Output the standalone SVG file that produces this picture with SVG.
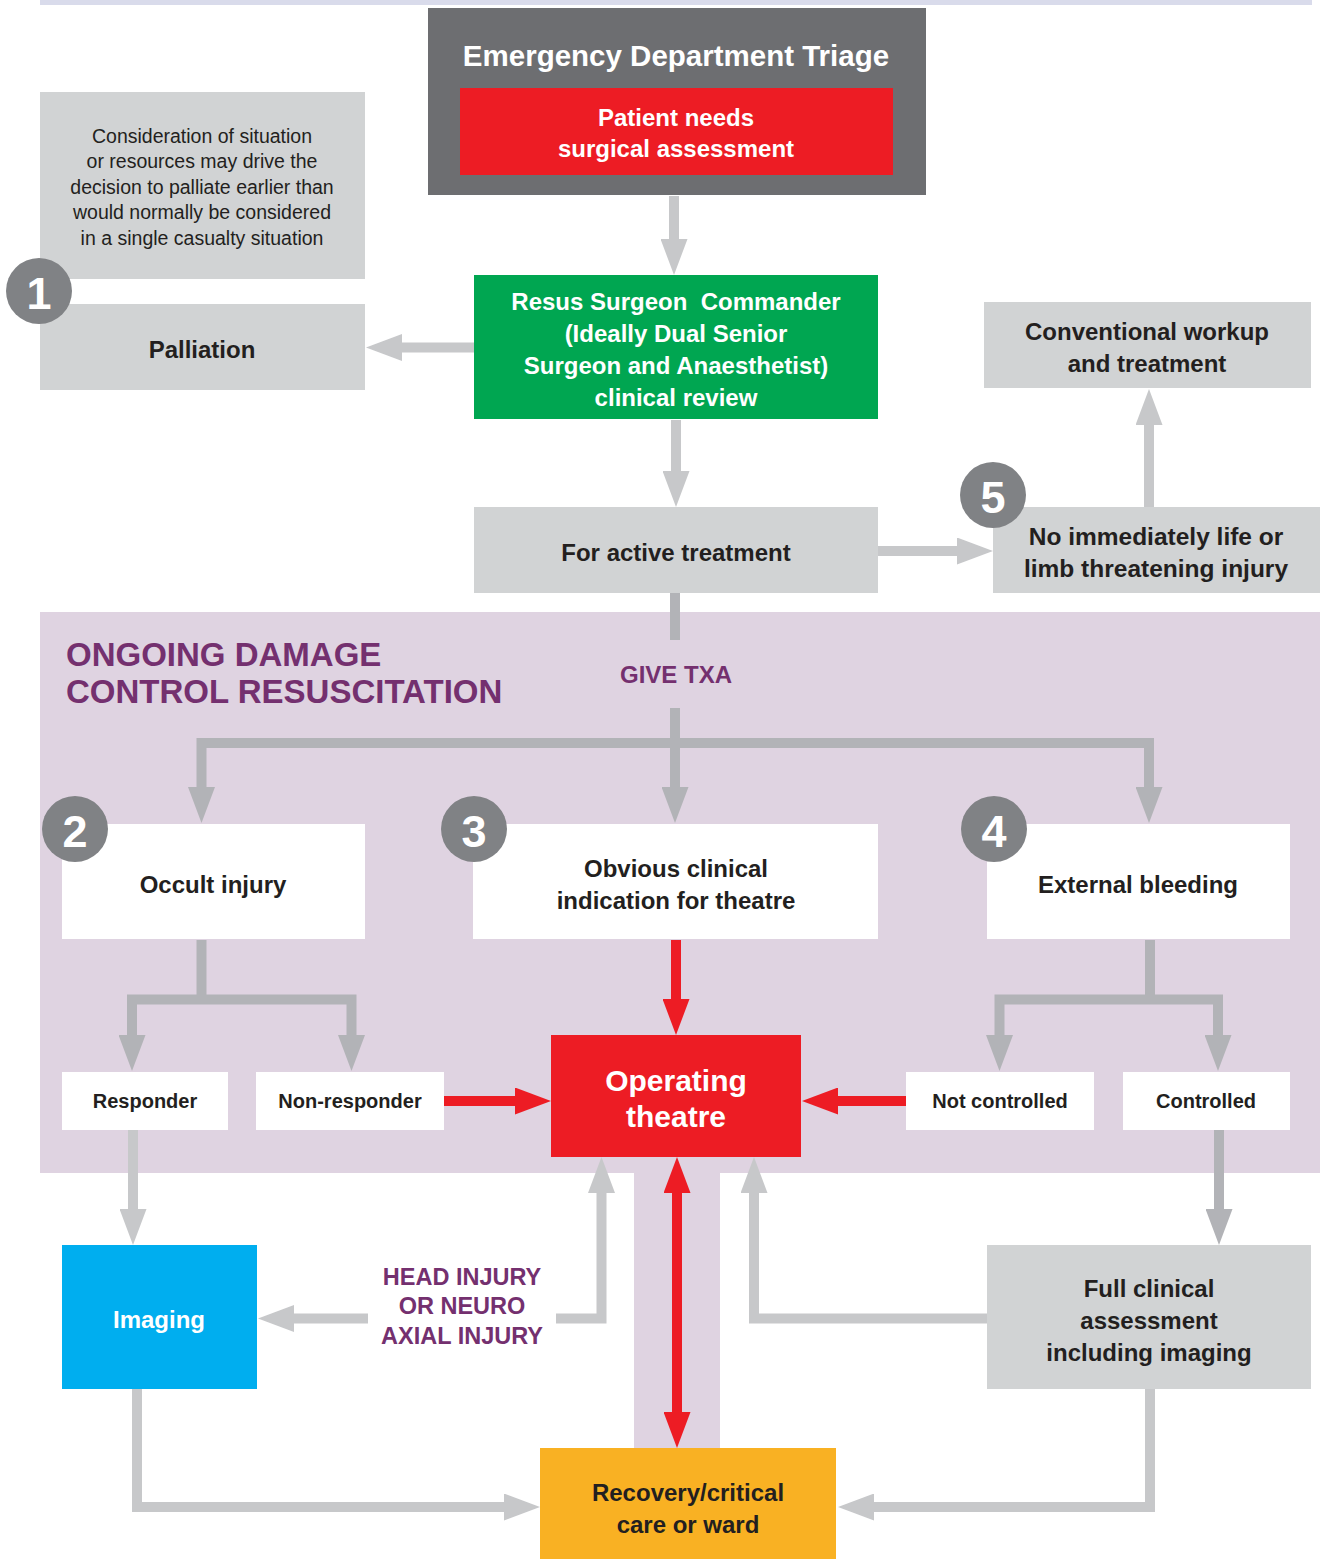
<svg xmlns="http://www.w3.org/2000/svg" width="1327" height="1560" viewBox="0 0 1327 1560">
<defs>
<style>
.t{font-family:"Liberation Sans",Arial,sans-serif;font-weight:bold;text-anchor:middle}
.r{font-family:"Liberation Sans",Arial,sans-serif;font-weight:normal;text-anchor:middle;font-size:19.5px;fill:#231f20}
.dk{fill:#231f20}
.wh{fill:#ffffff}
.pu{fill:#74306f}
.gbox{fill:#d1d3d4}
.wbox{fill:#ffffff}
.num{fill:#808285}
.numt{font-family:"Liberation Sans",Arial,sans-serif;font-weight:bold;text-anchor:middle;font-size:45px;fill:#ffffff}
.c{fill:none;stroke-width:10;stroke-linejoin:miter}
.lg{stroke:#c7c8ca}
.dg{stroke:#b2b3b7}
.rd{stroke:#ed1c24}
</style>
<marker id="hl" markerUnits="userSpaceOnUse" markerWidth="36" markerHeight="27" refX="1" refY="13.5" orient="auto-start-reverse" viewBox="0 0 36 27"><path d="M0,0 L36,13.5 L0,27 z" fill="#c7c8ca"/></marker>
<marker id="hd" markerUnits="userSpaceOnUse" markerWidth="36" markerHeight="27" refX="1" refY="13.5" orient="auto-start-reverse" viewBox="0 0 36 27"><path d="M0,0 L36,13.5 L0,27 z" fill="#b2b3b7"/></marker>
<marker id="hr" markerUnits="userSpaceOnUse" markerWidth="36" markerHeight="27" refX="1" refY="13.5" orient="auto-start-reverse" viewBox="0 0 36 27"><path d="M0,0 L36,13.5 L0,27 z" fill="#ed1c24"/></marker>
</defs>

<rect x="0" y="0" width="1327" height="1560" fill="#ffffff"/>
<rect x="40" y="0" width="1272" height="5" fill="#d9dbeb"/>

<!-- purple region -->
<g id="dcr-region">
<rect x="40" y="612" width="1280" height="561" fill="#dfd3e1"/>
<rect x="634" y="1172" width="86" height="276" fill="#dfd3e1"/>
<text class="t pu" x="66" y="666" font-size="33" style="text-anchor:start">ONGOING DAMAGE</text>
<text class="t pu" x="66" y="703" font-size="33" style="text-anchor:start">CONTROL RESUSCITATION</text>
</g>

<!-- connectors -->
<g id="connectors">
<path class="c lg" d="M674,196 V240" marker-end="url(#hl)"/>
<path class="c lg" d="M474,347.5 H401" marker-end="url(#hl)"/>
<path class="c lg" d="M676,420 V472" marker-end="url(#hl)"/>
<path class="c lg" d="M878,551 H958" marker-end="url(#hl)"/>
<path class="c lg" d="M1149,507 V424" marker-end="url(#hl)"/>
<path class="c dg" d="M675,593 V640"/>
<path class="c dg" d="M675,708 V788" marker-end="url(#hd)"/>
<path class="c dg" d="M201.5,788 V743 H1149 V788" marker-start="url(#hd)" marker-end="url(#hd)"/>
<path class="c dg" d="M201.5,940 V999.5"/>
<path class="c dg" d="M132,1036 V999.5 H351.5 V1036" marker-start="url(#hd)" marker-end="url(#hd)"/>
<path class="c dg" d="M1150,940 V999.5"/>
<path class="c dg" d="M999.5,1036 V999.5 H1218 V1036" marker-start="url(#hd)" marker-end="url(#hd)"/>
<path class="c rd" d="M676,940 V1000" marker-end="url(#hr)"/>
<path class="c rd" d="M444,1101 H516" marker-end="url(#hr)"/>
<path class="c rd" d="M906,1101 H837" marker-end="url(#hr)"/>
<path class="c lg" d="M133,1130 V1210" marker-end="url(#hl)"/>
<path class="c dg" d="M1219,1130 V1210" marker-end="url(#hd)"/>
<path class="c lg" d="M368,1318.5 H293" marker-end="url(#hl)"/>
<path class="c lg" d="M556,1318.5 H601.5 V1192" marker-end="url(#hl)"/>
<path class="c lg" d="M987,1318.5 H754 V1192" marker-end="url(#hl)"/>
<path class="c rd" d="M677,1192 V1413" marker-start="url(#hr)" marker-end="url(#hr)"/>
<path class="c lg" d="M137,1389 V1507 H505" marker-end="url(#hl)"/>
<path class="c lg" d="M1150,1389 V1507 H873" marker-end="url(#hl)"/>
</g>

<g id="ed-triage">
<rect x="428" y="8" width="498" height="187" fill="#6d6e71"/>
<text class="t wh" x="676" y="65.5" font-size="29.5">Emergency Department Triage</text>
</g>
<g id="patient-needs">
<rect x="460" y="88" width="433" height="87" fill="#ed1c24"/>
<text class="t wh" x="676" y="126" font-size="24">Patient needs</text>
<text class="t wh" x="676" y="157" font-size="24">surgical assessment</text>
</g>

<g id="consideration">
<rect class="gbox" x="40" y="92" width="325" height="187"/>
<text class="r" x="202" y="143">Consideration of situation</text>
<text class="r" x="202" y="168">or resources may drive the</text>
<text class="r" x="202" y="194">decision to palliate earlier than</text>
<text class="r" x="202" y="219">would normally be considered</text>
<text class="r" x="202" y="245">in a single casualty situation</text>
</g>

<g id="palliation">
<rect class="gbox" x="40" y="304" width="325" height="86"/>
<text class="t dk" x="202" y="357.5" font-size="24">Palliation</text>
<circle class="num" cx="39" cy="291" r="33"/>
<text class="numt" x="39" y="309">1</text>
</g>

<g id="resus-surgeon">
<rect x="474" y="275" width="404" height="144" fill="#00a651"/>
<text class="t wh" x="676" y="310" font-size="24" xml:space="preserve">Resus Surgeon  Commander</text>
<text class="t wh" x="676" y="342" font-size="24">(Ideally Dual Senior</text>
<text class="t wh" x="676" y="374" font-size="24">Surgeon and Anaesthetist)</text>
<text class="t wh" x="676" y="406" font-size="24">clinical review</text>
</g>

<g id="conventional">
<rect class="gbox" x="984" y="302" width="327" height="86"/>
<text class="t dk" x="1147" y="339.5" font-size="24">Conventional workup</text>
<text class="t dk" x="1147" y="371.5" font-size="24">and treatment</text>
</g>

<g id="active-treatment">
<rect class="gbox" x="474" y="507" width="404" height="86"/>
<text class="t dk" x="676" y="560.5" font-size="24">For active treatment</text>
</g>

<g id="no-immediate">
<rect class="gbox" x="993" y="507" width="327" height="86"/>
<text class="t dk" x="1156" y="544.5" font-size="24.5">No immediately life or</text>
<text class="t dk" x="1156" y="576.5" font-size="24.5">limb threatening injury</text>
<circle class="num" cx="993" cy="495" r="33"/>
<text class="numt" x="993" y="513">5</text>
</g>

<g id="give-txa">
<text class="t pu" x="676" y="683" font-size="24">GIVE TXA</text>
</g>

<g id="occult">
<rect class="wbox" x="62" y="824" width="303" height="115"/>
<text class="t dk" x="213" y="892.5" font-size="24">Occult injury</text>
<circle class="num" cx="75" cy="829" r="33"/>
<text class="numt" x="75" y="847">2</text>
</g>

<g id="obvious">
<rect class="wbox" x="473" y="824" width="405" height="115"/>
<text class="t dk" x="676" y="876.5" font-size="24">Obvious clinical</text>
<text class="t dk" x="676" y="908.5" font-size="24">indication for theatre</text>
<circle class="num" cx="474" cy="829" r="33"/>
<text class="numt" x="474" y="847">3</text>
</g>

<g id="external">
<rect class="wbox" x="987" y="824" width="303" height="115"/>
<text class="t dk" x="1138" y="892.5" font-size="24">External bleeding</text>
<circle class="num" cx="994" cy="829" r="33"/>
<text class="numt" x="994" y="847">4</text>
</g>

<g id="responder">
<rect class="wbox" x="62" y="1072" width="166" height="58"/>
<text class="t dk" x="145" y="1108" font-size="20">Responder</text>
</g>
<g id="non-responder">
<rect class="wbox" x="256" y="1072" width="188" height="58"/>
<text class="t dk" x="350" y="1108" font-size="20">Non-responder</text>
</g>

<g id="operating-theatre">
<rect x="551" y="1035" width="250" height="122" fill="#ed1c24"/>
<text class="t wh" x="676" y="1090.5" font-size="30">Operating</text>
<text class="t wh" x="676" y="1126.5" font-size="30">theatre</text>
</g>

<g id="not-controlled">
<rect class="wbox" x="906" y="1072" width="188" height="58"/>
<text class="t dk" x="1000" y="1108" font-size="20">Not controlled</text>
</g>
<g id="controlled">
<rect class="wbox" x="1123" y="1072" width="167" height="58"/>
<text class="t dk" x="1206" y="1108" font-size="20">Controlled</text>
</g>

<g id="imaging">
<rect x="62" y="1245" width="195" height="144" fill="#00aeef"/>
<text class="t wh" x="159" y="1327.5" font-size="24">Imaging</text>
</g>

<g id="head-injury">
<text class="t pu" x="462" y="1284.5" font-size="23.5">HEAD INJURY</text>
<text class="t pu" x="462" y="1314" font-size="23.5">OR NEURO</text>
<text class="t pu" x="462" y="1343.5" font-size="23.5">AXIAL INJURY</text>
</g>

<g id="full-clinical">
<rect class="gbox" x="987" y="1245" width="324" height="144"/>
<text class="t dk" x="1149" y="1296.5" font-size="24">Full clinical</text>
<text class="t dk" x="1149" y="1328.5" font-size="24">assessment</text>
<text class="t dk" x="1149" y="1360.5" font-size="24">including imaging</text>
</g>

<g id="recovery">
<rect x="540" y="1448" width="296" height="111" fill="#f9b123"/>
<text class="t dk" x="688" y="1500.5" font-size="24">Recovery/critical</text>
<text class="t dk" x="688" y="1532.5" font-size="24">care or ward</text>
</g>
</svg>
